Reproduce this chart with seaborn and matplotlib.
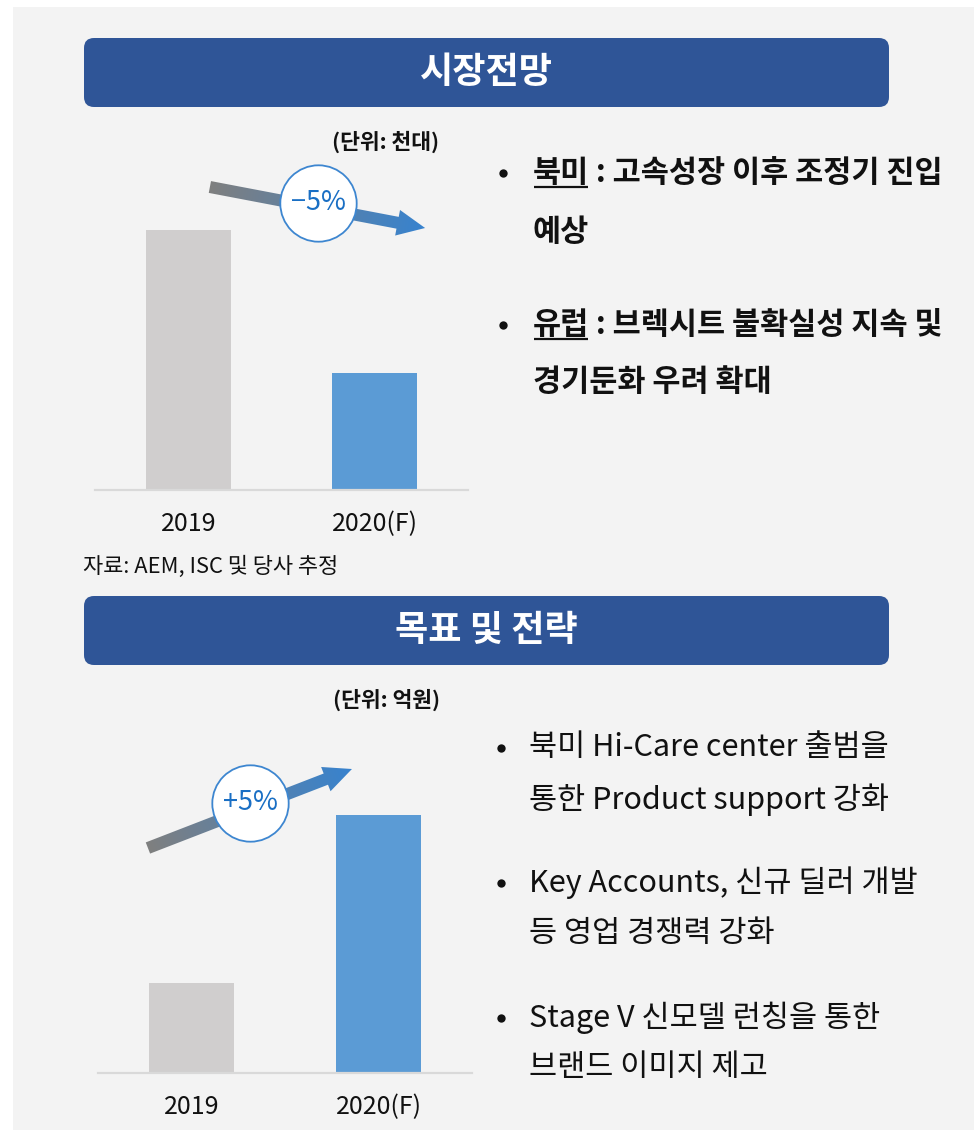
import numpy as np
import pandas as pd
import matplotlib
matplotlib.use("Agg")
import matplotlib.pyplot as plt
import seaborn as sns
from matplotlib.patches import FancyBboxPatch, Rectangle, Polygon

# ---------------- data ----------------
categories = ["2019", "2020(F)"]
market_values = [26.0, 11.7]      # 시장전망 (단위: 천대) - relative bar heights
target_values = [9.0, 25.8]       # 목표 (단위: 억원)
bar_colors = ["#d0cece", "#5b9bd5"]
market_change = "−5%"
target_change = "+5%"
headers = ["시장전망", "목표 및 전략"]
units = ["(단위: 천대)", "(단위: 억원)"]
source_note = "자료: AEM, ISC 및 당사 추정"
market_bullets = [
    [[("북미", True), (" : 고속성장 이후 조정기 진입", False)], [("예상", False)]],
    [[("유럽", True), (" : 브렉시트 불확실성 지속 및", False)], [("경기둔화 우려 확대", False)]],
]
strategy_bullets = [
    ["북미 Hi-Care center 출범을", "통한 Product support 강화"],
    ["Key Accounts, 신규 딜러 개발", "등 영업 경쟁력 강화"],
    ["Stage V 신모델 런칭을 통한", "브랜드 이미지 제고"],
]

# ---------------- style ----------------
sns.set_theme(style="white")
plt.rcParams["font.family"] = ["Noto Sans CJK KR", "DejaVu Sans"]

W, H = 979, 1130
fig = plt.figure(figsize=(W / 100, H / 100), dpi=100, facecolor="white")


def Y(py):
    return H - py


# background panel and headers
bg = fig.add_axes([0, 0, 1, 1], zorder=0)
bg.set_xlim(0, W)
bg.set_ylim(0, H)
bg.axis("off")
bg.add_patch(Rectangle((13, 0), 961, H - 7, facecolor="#f3f3f3", edgecolor="none"))
for title, (top, bot) in zip(headers, [(38, 107), (596, 665)]):
    bg.add_patch(FancyBboxPatch((84, Y(bot)), 805, bot - top,
                                boxstyle="round,pad=0,rounding_size=10",
                                facecolor="#2f5597", edgecolor="none"))
    bg.text(486.5, Y((top + bot) / 2), title, color="white", fontsize=26,
            fontweight="bold", ha="center", va="center")


def bar_axes(left_px, right_px, base_py, top_py):
    return fig.add_axes([left_px / W, (H - base_py) / H,
                         (right_px - left_px) / W, (base_py - top_py) / H], zorder=1)


def draw_bars(ax, values):
    df = pd.DataFrame({"year": categories, "value": values})
    sns.barplot(data=df, x="year", y="value", hue="year", palette=bar_colors,
                width=0.457, saturation=1, legend=False, linewidth=0, ax=ax)
    ax.set_xlim(-0.5, 1.5)
    ax.set_ylim(0, 30)
    ax.set_facecolor("none")
    for s in ["left", "right", "top"]:
        ax.spines[s].set_visible(False)
    ax.spines["bottom"].set_color("#d9d9d9")
    ax.spines["bottom"].set_linewidth(1.6)
    ax.set_yticks([])
    ax.set_xlabel("")
    ax.set_ylabel("")
    ax.tick_params(axis="x", length=0, pad=15, labelsize=18, labelcolor="#111111")


ax1 = bar_axes(95, 468, 490, 190)
draw_bars(ax1, market_values)
ax2 = bar_axes(98, 472, 1073, 773)
draw_bars(ax2, target_values)

# overlay in figure pixel coordinates
ov = fig.add_axes([0, 0, 1, 1], zorder=3)
ov.set_xlim(0, W)
ov.set_ylim(0, H)
ov.axis("off")
ov.patch.set_visible(False)

c_gray = np.array(matplotlib.colors.to_rgb("#7f7f7f"))
c_blue = np.array(matplotlib.colors.to_rgb("#3783cf"))


def grad_arrow(p0, p1, sw=12, hw=26, hl=28):
    p0 = np.asarray(p0, float)
    p1 = np.asarray(p1, float)
    d = p1 - p0
    L = np.hypot(*d)
    u = d / L
    n = np.array([-u[1], u[0]])
    base = p1 - u * hl
    poly = np.array([p0 + n * sw / 2, base + n * sw / 2, base + n * hw / 2, p1,
                     base - n * hw / 2, base - n * sw / 2, p0 - n * sw / 2])
    x0, y0 = poly.min(axis=0) - 2
    x1, y1 = poly.max(axis=0) + 2
    X, Yg = np.meshgrid(np.linspace(x0, x1, 300), np.linspace(y0, y1, 300))
    t = np.clip(((X - p0[0]) * u[0] + (Yg - p0[1]) * u[1]) / L, 0, 1)[..., None]
    img = c_gray * (1 - t) + c_blue * t
    im = ov.imshow(img, extent=[x0, x1, y0, y1], origin="lower",
                   interpolation="bilinear", zorder=4, aspect="auto")
    patch = Polygon(poly, closed=True, facecolor="none", edgecolor="none",
                    transform=ov.transData)
    ov.add_patch(patch)
    im.set_clip_path(patch)


def badge(center, label):
    ov.plot([center[0]], [center[1]], marker="o", ms=55, mfc="white",
            mec="#3d86d0", mew=1.3, zorder=5, clip_on=False)
    ov.text(center[0], center[1], label, color="#1a6fc4", fontsize=19.5,
            fontweight="medium", ha="center", va="center", zorder=6)


# top chart annotation (anchored to bar-axes data coordinates)
t1 = ax1.transData
grad_arrow(t1.transform((0.116, 30.3)), t1.transform((1.27, 26.2)))
badge(t1.transform((0.696, 28.7)), market_change)

t2 = ax2.transData
grad_arrow(t2.transform((-0.233, 22.5)), t2.transform((0.858, 30.4)))
badge(t2.transform((0.313, 27.0)), target_change)

ov.set_xlim(0, W)
ov.set_ylim(0, H)

# unit labels, source note
ov.text(386, Y(142), units[0], fontsize=15.5, fontweight="bold", ha="center",
        va="center", color="#111111")
ov.text(387, Y(700), units[1], fontsize=15.5, fontweight="bold", ha="center",
        va="center", color="#111111")
ov.text(83, Y(567), source_note, fontsize=15.8, ha="left", va="center",
        color="#111111")

# right-side bullets
renderer = fig.canvas.get_renderer()


def rich_line(x, y, parts, size, weight):
    for txt, ul in parts:
        t = ov.text(x, y, txt, fontsize=size, fontweight=weight, ha="left",
                    va="center", color="#111111", zorder=6)
        bb = t.get_window_extent(renderer=renderer)
        if ul:
            ov.plot([bb.x0 + 1, bb.x1 - 1], [bb.y0 + 2, bb.y0 + 2],
                    color="#111111", lw=1.6, solid_capstyle="butt", zorder=6)
        x = bb.x1


def bullet_dot(x, y):
    ov.plot([x], [y], marker="o", ms=6, mfc="#111111", mec="#111111", mew=0, zorder=6)


top_rows = [(173, 232), (325, 382)]
for (l1, l2), lines in zip(top_rows, market_bullets):
    bullet_dot(503, Y(l1))
    rich_line(533, Y(l1), lines[0], 22, "bold")
    rich_line(533, Y(l2), lines[1], 22, "bold")

bot_rows = [(748, 800), (883, 933), (1018, 1068)]
for (l1, l2), lines in zip(bot_rows, strategy_bullets):
    bullet_dot(501, Y(l1))
    ov.text(529, Y(l1), lines[0], fontsize=22, ha="left", va="center", color="#111111")
    ov.text(529, Y(l2), lines[1], fontsize=22, ha="left", va="center", color="#111111")

fig.savefig("out.png", dpi=100, facecolor="white")
